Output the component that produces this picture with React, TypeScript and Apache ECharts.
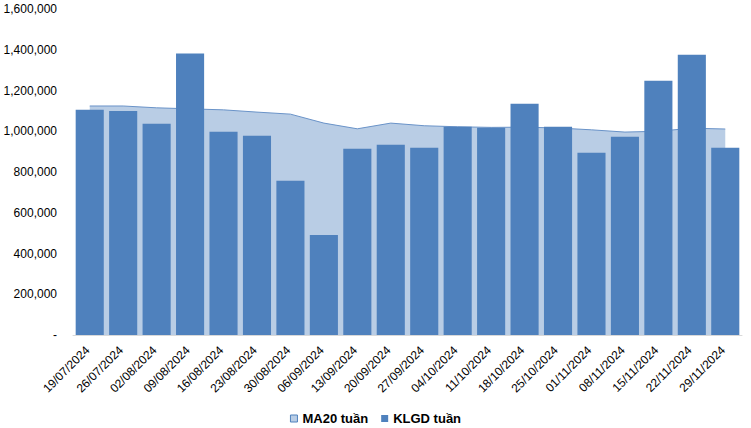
import React, { useEffect, useRef } from "react";
import * as echarts from "echarts";

const categories = [
  "19/07/2024", "26/07/2024", "02/08/2024", "09/08/2024", "16/08/2024",
  "23/08/2024", "30/08/2024", "06/09/2024", "13/09/2024", "20/09/2024",
  "27/09/2024", "04/10/2024", "11/10/2024", "18/10/2024", "25/10/2024",
  "01/11/2024", "08/11/2024", "15/11/2024", "22/11/2024", "29/11/2024",
];

const klgdWeekly = [
  1105000, 1100000, 1037000, 1382000, 998000,
  978000, 757000, 491000, 914000, 934000,
  919000, 1022000, 1017000, 1135000, 1022000,
  894000, 973000, 1248000, 1376000, 919000,
];

const ma20Weekly = [
  1124000, 1124000, 1115000, 1110000, 1105000,
  1094000, 1084000, 1040000, 1012000, 1040000,
  1027000, 1022000, 1019000, 1020000, 1016000,
  1007000, 996000, 1000000, 1015000, 1011000,
];

const FONT = "Liberation Sans, Arial, sans-serif";

export default function App() {
  const ref = useRef<HTMLDivElement>(null);
  useEffect(() => {
    document.body.style.margin = "0";
    if (!ref.current) return;
    const chart = echarts.init(ref.current, undefined, { renderer: "svg" });
    chart.setOption({
      animation: false,
      textStyle: { fontFamily: FONT },
      grid: { left: 73, right: 9, top: 9, bottom: 93, containLabel: false },
      legend: {
        bottom: -2,
        left: "center",
        itemWidth: 7,
        itemHeight: 7,
        itemGap: 13,
        textStyle: { fontFamily: FONT, fontSize: 13, fontWeight: "bold", color: "#000" },
        data: [
          { name: "MA20 tuần", icon: "rect", itemStyle: { color: "#B9CDE5", borderColor: "#4F81BD", borderWidth: 1 } },
          { name: "KLGD tuần", icon: "rect", itemStyle: { color: "#4F81BD" } },
        ],
      },
      xAxis: {
        type: "category",
        data: categories,
        boundaryGap: true,
        axisLine: { lineStyle: { color: "#D9D9D9", width: 1 } },
        axisTick: { alignWithLabel: false, length: 5, lineStyle: { color: "#D9D9D9" } },
        axisLabel: {
          rotate: 45,
          interval: 0,
          fontSize: 12,
          color: "#000",
          fontFamily: FONT,
          margin: 11,
          padding: [0, 3, 0, 0],
        },
      },
      yAxis: {
        type: "value",
        min: 0,
        max: 1600000,
        interval: 200000,
        axisLine: { show: false },
        axisTick: { show: false },
        splitLine: { show: false },
        axisLabel: {
          fontSize: 12,
          color: "#000",
          fontFamily: FONT,
          margin: 16,
          formatter: (v: number) => (v === 0 ? "-" : v.toLocaleString("en-US")),
        },
      },
      series: [
        {
          name: "MA20 tuần",
          type: "line",
          data: ma20Weekly,
          symbol: "none",
          smooth: false,
          lineStyle: { color: "#6A93C8", width: 1 },
          itemStyle: { color: "#B9CDE5" },
          areaStyle: { color: "#B9CDE5", opacity: 1 },
          z: 1,
        },
        {
          name: "KLGD tuần",
          type: "bar",
          data: klgdWeekly,
          barCategoryGap: "16%",
          itemStyle: { color: "#4F81BD" },
          z: 2,
        },
      ],
    });
    return () => chart.dispose();
  }, []);
  return <div ref={ref} style={{ width: 751, height: 428 }} />;
}
